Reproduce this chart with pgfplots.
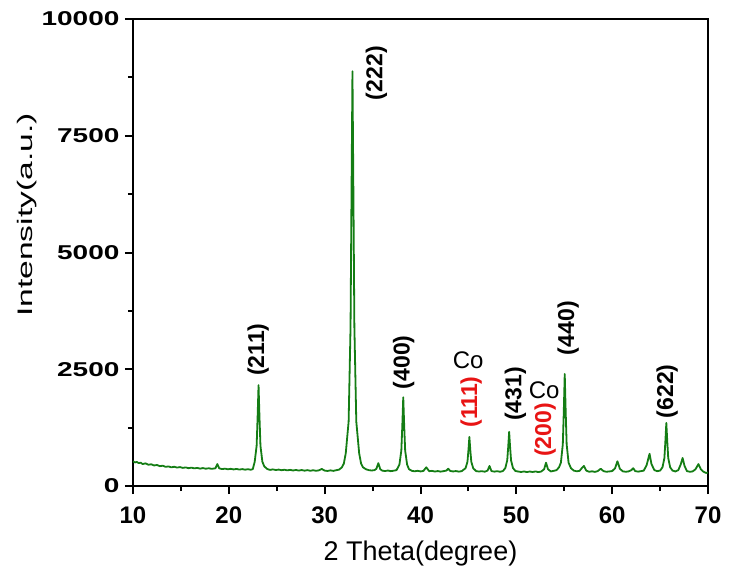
\documentclass[border=0pt]{standalone}
\usepackage{fontspec}
\setmainfont{Liberation Sans}
\usepackage{graphicx}
\usepackage{pgfplots}
\pgfplotsset{compat=1.18}
\definecolor{xrdgreen}{RGB}{20,125,20}
\definecolor{hklred}{RGB}{232,20,20}

\begin{document}
\begin{tikzpicture}
\begin{axis}[
    scale only axis,
    width=575pt, height=467pt,
    xmin=10, xmax=70, ymin=0, ymax=10000,
    xtick={10,20,...,70}, minor x tick num=1,
    ytick={0,2500,5000,7500,10000}, minor y tick num=1,
    xtick pos=bottom, ytick pos=left,
    tick align=outside,
    major tick length=8pt, minor tick length=5pt,
    axis line style={line width=2.2pt},
    every tick/.style={line width=2pt, black},
    scaled y ticks=false,
    /pgf/number format/assume math mode=true,
    /pgf/number format/set thousands separator={},
    xticklabel style={font=\fontsize{24}{26}\selectfont\bfseries, yshift=-9pt},
    yticklabel style={font=\fontsize{20}{22}\selectfont\bfseries, xshift=-2pt},
    yticklabel={\scalebox{1.4}[1]{\pgfmathprintnumber{\tick}}},
    xlabel={2 Theta(degree)},
    ylabel={\scalebox{1.6}[1]{Intensity(a.u.)}},
    xlabel style={font=\fontsize{27}{29}\selectfont, yshift=-11pt},
    ylabel style={font=\fontsize{21}{23}\selectfont, at={(ticklabel cs:0.58)}, yshift=-2pt},
]
\addplot[xrdgreen, line width=1.8pt, line join=round] coordinates {
(10.0,530) (10.2,505) (10.4,515) (10.6,490) (10.8,500) (11.0,470) (11.3,485)
(11.6,455) (11.9,465) (12.2,440) (12.5,450) (12.8,425) (13.1,435) (13.4,410)
(13.7,420) (14.0,400) (14.3,412) (14.6,395) (14.9,405) (15.2,388) (15.5,398)
(15.8,382) (16.1,393) (16.4,378) (16.7,388) (17.0,372) (17.3,384) (17.6,370)
(17.9,380) (18.2,368) (18.5,376) (18.6,380) (18.8,470) (19.0,378) (19.3,362)
(19.6,372) (19.9,358) (20.2,368) (20.5,355) (20.8,366) (21.1,352) (21.4,362)
(21.7,350) (22.0,360) (22.3,348) (22.5,362) (22.7,520) (22.9,860) (23.0,1460)
(23.1,2160) (23.2,1460) (23.3,860) (23.5,520) (23.7,420) (24.0,365) (24.3,345)
(24.6,356) (24.9,342) (25.2,352) (25.5,338) (25.8,348) (26.1,335) (26.4,346)
(26.7,332) (27.0,344) (27.3,330) (27.6,342) (27.9,328) (28.2,340) (28.5,326)
(28.8,338) (29.1,325) (29.4,336) (29.7,365) (30.0,330) (30.3,322) (30.6,335)
(30.9,324) (31.2,338) (31.5,350) (31.8,400) (32.0,480) (32.2,700) (32.5,1380)
(32.7,3410) (32.8,6230) (32.9,8880) (33.0,6230) (33.1,3410) (33.3,1380) (33.6,700)
(33.8,480) (34.0,400) (34.3,360) (34.6,340) (34.9,332) (35.2,340) (35.4,370)
(35.6,490) (35.8,360) (36.0,330) (36.3,320) (36.6,332) (36.9,318) (37.2,328)
(37.5,340) (37.8,460) (38.0,760) (38.1,1280) (38.2,1900) (38.3,1280) (38.4,760)
(38.6,460) (38.8,360) (39.1,325) (39.4,315) (39.7,326) (40.0,312) (40.3,322)
(40.6,400) (40.9,318) (41.2,324) (41.5,310) (41.8,320) (42.1,308) (42.4,318)
(42.7,330) (42.9,370) (43.1,322) (43.4,312) (43.7,320) (44.0,308) (44.3,318)
(44.7,380) (44.9,520) (45.0,760) (45.1,1050) (45.2,760) (45.3,520) (45.5,380)
(45.8,320) (46.1,310) (46.4,318) (46.7,306) (47.0,330) (47.2,430) (47.4,320)
(47.7,308) (48.0,318) (48.3,305) (48.6,320) (48.85,385) (49.05,550) (49.15,830)
(49.25,1160) (49.35,830) (49.45,550) (49.65,385) (49.9,322) (50.2,310) (50.5,300)
(50.8,312) (51.1,298) (51.4,310) (51.7,300) (52.0,312) (52.3,298) (52.6,310)
(52.9,360) (53.1,500) (53.3,360) (53.6,312) (53.9,325) (54.2,340) (54.45,400)
(54.65,500) (54.85,895) (54.95,1585) (55.05,2400) (55.15,1585) (55.25,895) (55.45,500)
(55.7,380) (56.0,330) (56.3,315) (56.6,325) (56.9,400) (57.05,430) (57.3,330)
(57.6,305) (57.9,315) (58.2,302) (58.5,320) (58.8,370) (59.1,318) (59.4,305)
(59.7,312) (60.0,320) (60.3,380) (60.55,530) (60.8,370) (61.1,315) (61.4,305)
(61.7,312) (62.0,340) (62.2,380) (62.4,320) (62.7,308) (63.0,318) (63.3,330)
(63.6,450) (63.9,690) (64.1,470) (64.4,340) (64.7,318) (65.0,330) (65.25,400)
(65.45,600) (65.55,950) (65.65,1350) (65.75,950) (65.85,600) (66.05,400) (66.3,330)
(66.6,312) (66.9,340) (67.15,460) (67.35,600) (67.55,430) (67.8,320) (68.1,305)
(68.4,312) (68.7,360) (69.0,470) (69.25,360) (69.5,310) (69.8,280) (70.0,290)
};
% peak labels
\begin{scope}[every node/.style={rotate=90, font=\fontsize{23}{25}\selectfont\bfseries}]
\node at (axis cs:23.05,2920) {(211)};
\node at (axis cs:35.4,8840) {(222)};
\node at (axis cs:38.25,2650) {(400)};
\node[text=hklred] at (axis cs:45.3,1800) {(111)};
\node at (axis cs:49.9,1970) {(431)};
\node[text=hklred] at (axis cs:53.0,1200) {(200)};
\node at (axis cs:55.4,3380) {(440)};
\node at (axis cs:65.75,2030) {(622)};
\end{scope}
\node[font=\fontsize{24}{26}\selectfont] at (axis cs:44.97,2700) {Co};
\node[font=\fontsize{24}{26}\selectfont] at (axis cs:52.9,2060) {Co};
\end{axis}
\path (current axis.south west) ++(-133pt,-90pt) coordinate (bbl);
\path (current axis.north east) ++(42pt,19pt) coordinate (bbr);
\path (bbl) (bbr);
\end{tikzpicture}
\end{document}
